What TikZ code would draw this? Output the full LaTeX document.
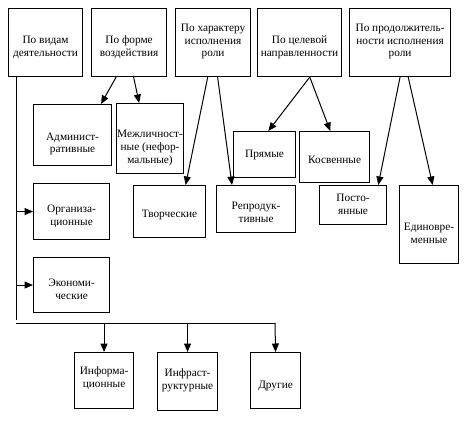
\documentclass[tikz,border=0pt]{standalone}
\usepackage{fontspec}
\setmainfont{Liberation Serif}
\usetikzlibrary{arrows.meta,calc}
\begin{document}
\begin{tikzpicture}[x=1pt,y=-1pt,
  bx/.style={draw, line width=1.1pt, anchor=north west, inner sep=0pt},
  tx/.style={align=center, inner sep=0pt, font=\fontsize{11.3}{12.8}\selectfont},
  ln/.style={line width=1pt},
  arr/.style={line width=1pt, -{Triangle[length=8.5pt,width=7pt]}}]
\useasboundingbox (0,0) rectangle (474,422);
% top row
\node[bx, minimum width=74pt, minimum height=68pt] (b1) at (8,8) {};
\node[bx, minimum width=75pt, minimum height=68pt] (b2) at (91,8) {};
\node[bx, minimum width=75pt, minimum height=68pt] (b3) at (175,8) {};
\node[bx, minimum width=84pt, minimum height=68pt] (b4) at (257,8) {};
\node[bx, minimum width=101pt, minimum height=68pt] (b5) at (349,8) {};
\node[tx] at ([yshift=-4.5pt]b1.center) {По видам\\деятельности};
\node[tx] at ([yshift=-4.5pt]b2.center) {По форме\\воздействия};
\node[tx] at ([yshift=1pt]b3.center) {По характеру\\исполнения\\роли};
\node[tx] at ([yshift=-5pt]b4.center) {По целевой\\направленности};
\node[tx] at ([yshift=1pt]b5.center) {По продолжитель-\\ности исполнения\\роли};
% second level
\node[bx, minimum width=78pt, minimum height=61pt] (adm) at (33,104) {};
\node[bx, minimum width=67pt, minimum height=70pt] (mezh) at (116,103) {};
\node[bx, minimum width=76pt, minimum height=56pt] (org) at (33,183) {};
\node[bx, minimum width=76pt, minimum height=55pt] (eco) at (33,257) {};
\node[bx, minimum width=72pt, minimum height=52pt] (tvor) at (133,185) {};
\node[bx, minimum width=79pt, minimum height=47pt] (repr) at (216,185) {};
\node[bx, minimum width=62pt, minimum height=46pt] (pryam) at (233,131) {};
\node[bx, minimum width=70pt, minimum height=51pt] (kosv) at (299,131) {};
\node[bx, minimum width=67pt, minimum height=39pt] (post) at (319,185) {};
\node[bx, minimum width=59pt, minimum height=78pt] (edin) at (399,185) {};
\node[bx, minimum width=59pt, minimum height=56pt] (inf) at (74,352) {};
\node[bx, minimum width=60pt, minimum height=58pt] (infr) at (157,352) {};
\node[bx, minimum width=50pt, minimum height=56pt] (drug) at (250,352) {};
\node[tx] at ([yshift=-9pt]adm.center) {Админист-\\ративные};
\node[tx] at ([yshift=-9.5pt]mezh.center) {Межличност-\\ные (нефор-\\мальные)};
\node[tx] at ([yshift=-4.5pt]org.center) {Организа-\\ционные};
\node[tx] at ([yshift=-4pt]eco.center) {Экономи-\\ческие};
\node[tx] at ([yshift=-3pt]tvor.center) {Творческие};
\node[tx] at ([yshift=-3.5pt]repr.center) {Репродук-\\тивные};
\node[tx] at (pryam.center) {Прямые};
\node[tx] at ([yshift=-3pt]kosv.center) {Косвенные};
\node[tx] at ([yshift=1pt]post.center) {Посто-\\янные};
\node[tx] at ([yshift=-9pt]edin.center) {Единовре-\\менные};
\node[tx] at ([yshift=2pt]inf.center) {Информа-\\ционные};
\node[tx] at ([yshift=1pt]infr.center) {Инфраст-\\руктурные};
\node[tx] at ([yshift=-5pt]drug.center) {Другие};
% trunk
\coordinate (tt) at ($(b1.south west)!0.11!(b1.south east)$);
\coordinate (bl) at (tt |- 0,323);
\coordinate (br) at (275,323);
\draw[ln] (tt) -- ([yshift=3pt]bl);
\draw[ln] (bl) -- (br);
\draw[arr] (tt |- org.west) -- (org.west);
\draw[arr] (tt |- eco.west) -- (eco.west);
\draw[arr] (bl -| inf.north) -- (inf.north);
\draw[arr] (bl -| infr.north) -- (infr.north);
\draw[arr] (br) -- (drug.north);
% arrows from top boxes
\draw[arr] ($(b2.south west)!0.33!(b2.south east)$) -- ($(adm.north west)!0.86!(adm.north east)$);
\draw[arr] ($(b2.south west)!0.56!(b2.south east)$) -- ($(mezh.north west)!0.34!(mezh.north east)$);
\draw[arr] ($(b3.south west)!0.43!(b3.south east)$) -- ($(tvor.north west)!0.72!(tvor.north east)$);
\draw[arr] ($(b3.south west)!0.56!(b3.south east)$) -- ($(repr.north west)!0.2!(repr.north east)$);
\draw[arr] ($(b4.south west)!0.62!(b4.south east)$) -- ($(pryam.north west)!0.56!(pryam.north east)$);
\draw[arr] ($(b4.south west)!0.62!(b4.south east)$) -- ($(kosv.north west)!0.44!(kosv.north east)$);
\draw[arr] ($(b5.south west)!0.5!(b5.south east)$) -- ($(post.north west)!0.87!(post.north east)$);
\draw[arr] ($(b5.south west)!0.58!(b5.south east)$) -- ($(edin.north west)!0.56!(edin.north east)$);
\end{tikzpicture}
\end{document}
